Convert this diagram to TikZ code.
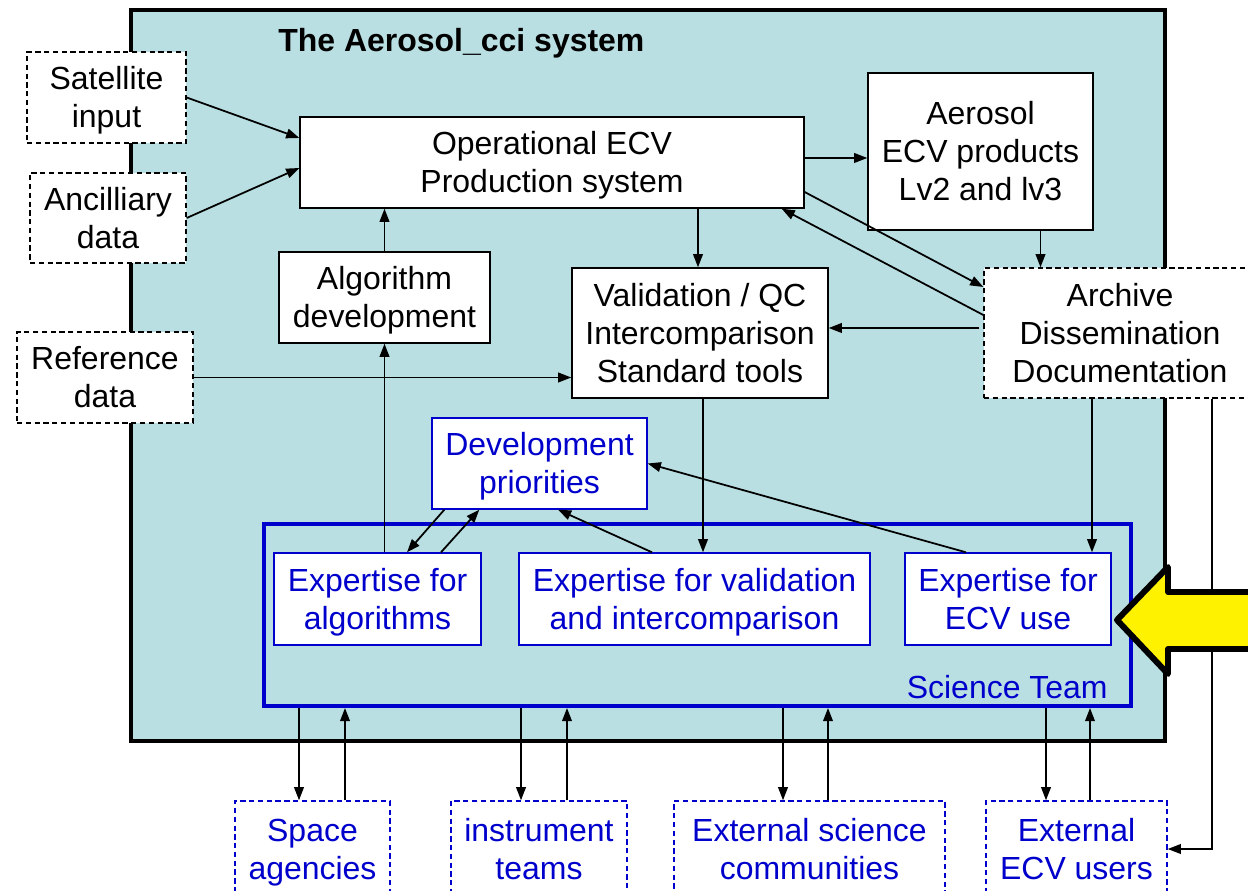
\documentclass[tikz,border=0pt]{standalone}
\usepackage{fontspec}
\setmainfont{Liberation Sans}
\usetikzlibrary{positioning,calc,arrows.meta}
\definecolor{ccifill}{RGB}{185,223,226}
\definecolor{teamblue}{RGB}{0,0,204}
\tikzset{
  twolines/.style={text height=38.1pt, text depth=3.86pt},
  threelines/.style={text height=59.7pt, text depth=3.86pt},
  box/.style={draw, rectangle, fill=white, align=center, inner sep=0pt, line width=0.8pt, twolines},
  dashbox/.style={box, dash pattern=on 3pt off 2pt},
  bluebox/.style={box, draw=teamblue, text=teamblue},
  bluedash/.style={bluebox, dash pattern=on 3pt off 2pt},
  arr/.style={-{Triangle[length=7.5pt,width=5.5pt]}, line width=1pt}
}
\begin{document}
\begin{tikzpicture}[x=0.02cm, y=-0.02cm, font=\fontsize{18.2}{21.6}\selectfont]

    \clip (0,0) rectangle (1248,891);

    % Nodes
    \node [draw, rectangle, fill=ccifill, line width=2.6pt, minimum width=20.68cm, minimum height=14.62cm] (cci_system) at (648,375.5) {};
    \node [anchor=west, inner sep=0pt, font=\fontsize{18.2}{21.6}\selectfont\bfseries] (system_title) at (278,43) {The Aerosol\_cci system};
    \node [draw=teamblue, rectangle, line width=2.3pt, minimum width=17.34cm, minimum height=3.64cm] (science_team) at (697.5,615) {};
    \node [anchor=east, inner sep=0pt, text=teamblue] (science_team_label) at (1108,687) {Science Team};

    \node [dashbox, minimum width=3.18cm, minimum height=1.82cm] (satellite_input) at (106.5,97.5) {Satellite\\input};
    \node [dashbox, minimum width=3.12cm, minimum height=1.80cm] (ancillary_data) at (108,218) {Ancilliary\\data};
    \node [dashbox, minimum width=3.52cm, minimum height=1.82cm] (reference_data) at (105,377.5) {Reference\\data};

    \node [box, minimum width=10.08cm, minimum height=1.82cm] (production_system) at (552,162.5) {Operational ECV\\Production system};
    \node [box, minimum width=4.22cm, minimum height=1.82cm] (algorithm_dev) at (384.5,297.5) {Algorithm\\development};
    \node [box, threelines, minimum width=5.12cm, minimum height=2.60cm] (validation) at (700,333) {Validation / QC\\Intercomparison\\Standard tools};
    \node [box, threelines, minimum width=4.50cm, minimum height=3.14cm] (ecv_products) at (980.5,151.5) {Aerosol\\ECV products\\Lv2 and lv3};
    \node [dashbox, threelines, minimum width=5.44cm, minimum height=2.60cm] (archive) at (1120,333) {Archive\\Dissemination\\Documentation};

    \node [bluebox, minimum width=4.30cm, minimum height=1.82cm] (dev_priorities) at (539.5,463.5) {Development\\priorities};
    \node [bluebox, minimum width=4.14cm, minimum height=1.84cm] (exp_algorithms) at (377.5,599) {Expertise for\\algorithms};
    \node [bluebox, minimum width=7.02cm, minimum height=1.84cm] (exp_validation) at (694.5,599) {Expertise for validation\\and intercomparison};
    \node [bluebox, minimum width=4.12cm, minimum height=1.84cm] (exp_ecv_use) at (1008,599) {Expertise for\\ECV use};

    \node [bluedash, minimum width=3.10cm, minimum height=1.92cm] (space_agencies) at (312.5,849) {Space\\agencies};
    \node [bluedash, minimum width=3.52cm, minimum height=1.92cm] (instrument_teams) at (539,849) {instrument\\teams};
    \node [bluedash, minimum width=5.42cm, minimum height=1.92cm] (science_communities) at (809.5,849) {External science\\communities};
    \node [bluedash, minimum width=3.62cm, minimum height=1.92cm] (ecv_users) at (1076.5,849) {External\\ECV users};

    % Arrows
    \draw[arr] (satellite_input.east) -- ($(production_system.west)+(0,-24.5)$);
    \draw[arr] (ancillary_data.east) -- ($(production_system.west)+(0,5.5)$);
    \draw[arr] (algorithm_dev.north) -- (algorithm_dev.north |- production_system.south);
    \draw[arr] (exp_algorithms.north -| algorithm_dev.south) -- (algorithm_dev.south);
    \draw[arr] (reference_data.east) -- (reference_data.east -| validation.west);
    \draw[arr] ($(validation.north |- production_system.south)+(-2,0)$) -- ($(validation.north)+(-2,0)$);
    \draw[arr] ($(production_system.east)+(0,-4.5)$) -- ($(ecv_products.west |- production_system.east)+(0,-4.5)$);
    \draw[arr] ($(production_system.east)+(0,29.5)$) -- ($(archive.west)+(0,-46)$);
    \draw[arr] ($(archive.west)+(0,-18)$) -- ($(production_system.south east)+(-23,0)$);
    \draw[arr] ($(archive.west)+(-4,-5)$) -- ($(validation.east |- archive.west)+(0,-5)$);
    \draw[arr] ($(ecv_products.south)+(60,0)$) -- ($(ecv_products.south |- archive.north)+(60,0)$);
    \draw[arr] ($(validation.south)+(3,0)$) -- ($(validation.south |- exp_validation.north)+(3,0)$);
    \draw[arr] ($(archive.south)+(-28,0)$) -- ($(archive.south |- exp_ecv_use.north)+(-28,0)$);
    \draw[arr] ($(archive.south)+(92,0)$) |- (ecv_users.east);

    \draw[arr] ($(dev_priorities.south west)+(13,0)$) -- ($(exp_algorithms.north)+(29.5,0)$);
    \draw[arr] ($(exp_algorithms.north)+(63.5,0)$) -- ($(dev_priorities.south west)+(48,0)$);
    \draw[arr] ($(exp_validation.north)+(-42.5,0)$) -- ($(dev_priorities.south)+(18.5,0)$);
    \draw[arr] ($(exp_ecv_use.north)+(-42,0)$) -- (dev_priorities.east);

    \draw[arr] (299,0 |- science_team.south) -- (299,0 |- space_agencies.north);
    \draw[arr] (345,0 |- space_agencies.north) -- (345,0 |- science_team.south);
    \draw[arr] (521,0 |- science_team.south) -- (521,0 |- instrument_teams.north);
    \draw[arr] (567,0 |- instrument_teams.north) -- (567,0 |- science_team.south);
    \draw[arr] (783,0 |- science_team.south) -- (783,0 |- science_communities.north);
    \draw[arr] (828,0 |- science_communities.north) -- (828,0 |- science_team.south);
    \draw[arr] (1046,0 |- science_team.south) -- (1046,0 |- ecv_users.north);
    \draw[arr] (1090,0 |- ecv_users.north) -- (1090,0 |- science_team.south);

    % Yellow pointer
    \draw[fill=yellow, line width=3.4pt, line join=round] (1117,620) -- (1168,567) -- (1168,592) -- (1280,592) -- (1280,649) -- (1168,649) -- (1168,674) -- cycle;
\end{tikzpicture}
\end{document}
